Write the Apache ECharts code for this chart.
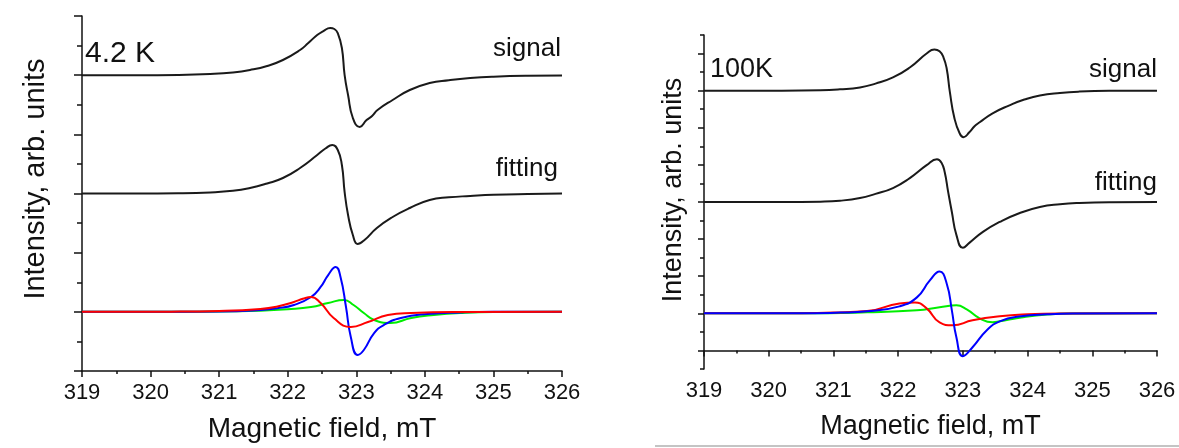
<!DOCTYPE html>
<html>
<head>
<meta charset="utf-8">
<script src="https://cdn.jsdelivr.net/npm/echarts@6.0.0/dist/echarts.min.js"></script>
<style>
  html, body { margin: 0; padding: 0; background: #fff; }
  #chart { width: 1179px; height: 448px; }
</style>
</head>
<body>
<div id="chart"></div>
<script>
// field axis ticks, mT
const fieldTicks = [319, 320, 321, 322, 323, 324, 325, 326]

// 4.2 K panel (offsets: signal at 5, fitting at 3, components at 1)
const lowSignal = [
  [319, 5.0], [319.8, 5.0], [320.4, 5.004], [320.87, 5.019], [321.2, 5.045], [321.45, 5.087],
  [321.7, 5.155], [321.93, 5.256], [322.18, 5.425], [322.3, 5.543], [322.43, 5.679], [322.52, 5.746],
  [322.62, 5.797], [322.68, 5.78], [322.73, 5.712], [322.79, 5.459], [322.83, 5.0], [322.88, 4.665],
  [322.95, 4.276], [323.05, 4.124], [323.15, 4.242], [323.23, 4.31], [323.31, 4.411], [323.53, 4.58],
  [323.78, 4.749], [324.07, 4.867], [324.35, 4.915], [324.66, 4.952], [325.0, 4.975], [325.5, 4.99],
  [326, 4.994]
]
const lowFit = [
  [319, 3.0], [319.8, 3.0], [320.4, 3.004], [320.87, 3.018], [321.2, 3.045], [321.45, 3.093],
  [321.7, 3.17], [321.93, 3.262], [322.18, 3.431], [322.43, 3.65], [322.55, 3.76], [322.65, 3.82],
  [322.73, 3.735], [322.79, 3.482], [322.83, 3.025], [322.88, 2.637], [322.95, 2.298], [323.02, 2.146],
  [323.12, 2.214], [323.3, 2.417], [323.53, 2.603], [323.78, 2.755], [324.07, 2.89], [324.35, 2.935],
  [324.66, 2.958], [325.0, 2.978], [325.5, 2.992], [326, 3.0]
]
const lowBlue = [
  [319, 1.0], [320, 1.0], [321, 1.006], [321.6, 1.031], [321.85, 1.06], [322.09, 1.115], [322.34, 1.251],
  [322.48, 1.42], [322.59, 1.622], [322.7, 1.758], [322.77, 1.589], [322.85, 1.082], [322.92, 0.575],
  [323.02, 0.27], [323.11, 0.355], [323.26, 0.642], [323.4, 0.777], [323.65, 0.896], [324.04, 0.963],
  [324.52, 0.99], [325, 1.0], [326, 1.0]
]
const lowRed = [
  [319, 1.0], [320.3, 1.003], [321, 1.014], [321.6, 1.048], [321.85, 1.09], [322.09, 1.166], [322.22, 1.22],
  [322.34, 1.251], [322.48, 1.149], [322.67, 0.896], [322.92, 0.744], [323.17, 0.828], [323.46, 0.946],
  [323.8, 0.98], [324.5, 0.997], [326, 1.0]
]
const lowGreen = [
  [319, 1.0], [320.3, 1.0], [321, 1.004], [321.6, 1.02], [322.0, 1.045], [322.34, 1.082], [322.59, 1.149],
  [322.82, 1.2], [322.96, 1.115], [323.11, 0.98], [323.26, 0.862], [323.5, 0.811], [323.8, 0.896],
  [324.13, 0.946], [324.52, 0.98], [325, 0.997], [326, 1.0]
]

// 100 K panel (offsets: signal at 7, fitting at 4, components at 1)
const highSignal = [
  [319, 7.0], [320.2, 7.0], [320.8, 7.01], [321.1, 7.035], [321.41, 7.087], [321.65, 7.19],
  [321.92, 7.356], [322.18, 7.624], [322.44, 8.0], [322.56, 8.107], [322.64, 8.06], [322.7, 7.9],
  [322.75, 7.597], [322.8, 6.953], [322.87, 6.255], [322.95, 5.852], [323.01, 5.745], [323.1, 5.879],
  [323.18, 6.04], [323.26, 6.148], [323.46, 6.389], [323.72, 6.604], [323.95, 6.76], [324.19, 6.872],
  [324.5, 6.94], [324.8, 6.975], [325.3, 6.995], [326, 7.0]
]
const highFit = [
  [319, 4.0], [320.2, 4.0], [320.8, 4.01], [321.1, 4.035], [321.41, 4.107], [321.65, 4.22],
  [321.92, 4.376], [322.18, 4.644], [322.44, 4.993], [322.6, 5.154], [322.67, 5.06], [322.72, 4.8],
  [322.77, 4.3], [322.83, 3.732], [322.9, 3.114], [323.0, 2.765], [323.1, 2.899], [323.31, 3.195],
  [323.57, 3.463], [323.88, 3.705], [324.19, 3.866], [324.5, 3.94], [324.8, 3.975], [325.3, 3.995],
  [326, 4.0]
]
const highBlue = [
  [319, 1.0], [320.48, 1.0], [321.1, 1.02], [321.52, 1.054], [322.02, 1.188], [322.29, 1.43],
  [322.49, 1.886], [322.64, 2.128], [322.75, 1.805], [322.83, 1.081], [322.9, 0.356], [323.0, -0.154],
  [323.15, 0.087], [323.37, 0.544], [323.57, 0.785], [323.9, 0.92], [324.3, 0.973], [324.7, 0.995],
  [326, 1.0]
]
const highRed = [
  [319, 1.0], [320.5, 1.005], [321.0, 1.02], [321.52, 1.06], [322.02, 1.268], [322.26, 1.295],
  [322.44, 1.134], [322.64, 0.758], [322.84, 0.678], [323.15, 0.812], [323.57, 0.919], [324.0, 0.973],
  [324.5, 0.995], [326, 1.0]
]
const highGreen = [
  [319, 1.0], [320.5, 1.0], [321.52, 1.027], [322.29, 1.081], [322.64, 1.161], [322.9, 1.215],
  [323.06, 1.107], [323.26, 0.866], [323.46, 0.758], [323.57, 0.785], [323.9, 0.89], [324.3, 0.97],
  [324.7, 0.995], [326, 1.0]
]

const rightMajor = [0, 1, 2, 3, 4, 5, 6, 7, 8]
const rightMinor = [-0.5, 0.5, 1.5, 2.5, 3.5, 4.5, 5.5, 6.5, 7.5, 8.5]

const font = 'Liberation Sans, Arial, sans-serif'
const ink = '#111'

function fieldAxis(gridIndex) {
  return {
    type: 'value',
    gridIndex: gridIndex,
    min: fieldTicks[0],
    max: fieldTicks[fieldTicks.length - 1],
    interval: 1,
    name: 'Magnetic field, mT',
    nameLocation: 'middle',
    nameGap: 44,
    nameTextStyle: { fontSize: gridIndex === 0 ? 28 : 27, color: ink, fontFamily: font },
    axisLine: { lineStyle: { color: ink, width: 1.5 } },
    axisTick: { length: 6, lineStyle: { color: ink, width: 1.5 } },
    minorTick: { show: true, splitNumber: 2, length: 3, lineStyle: { color: ink, width: 1.5 } },
    axisLabel: { fontSize: 22, color: ink, fontFamily: font, margin: 11 },
    splitLine: { show: false }
  }
}

function line(data, color, xi, yi) {
  return {
    type: 'line',
    xAxisIndex: xi,
    yAxisIndex: yi,
    data: data,
    showSymbol: false,
    smooth: 0.5,
    silent: true,
    animation: false,
    lineStyle: { color: color, width: 2 }
  }
}

const chart = echarts.init(document.getElementById('chart'))

chart.setOption({
  backgroundColor: '#fff',
  animation: false,
  grid: [
    { left: 82, top: 16, width: 480, height: 355 },
    { left: 704, top: 35, width: 453, height: 334 }
  ],
  xAxis: [fieldAxis(0), fieldAxis(1)],
  yAxis: [
    {
      type: 'value', gridIndex: 0, min: 0, max: 6, interval: 1,
      axisLine: { show: true, lineStyle: { color: ink, width: 1.5 } },
      axisTick: { show: true, length: 8, lineStyle: { color: ink, width: 1.5 } },
      minorTick: { show: true, splitNumber: 2, length: 5, lineStyle: { color: ink, width: 1.5 } },
      axisLabel: { show: false },
      splitLine: { show: false }
    },
    {
      type: 'value', gridIndex: 1, min: -0.5, max: 8.5,
      axisLine: { show: true, lineStyle: { color: ink, width: 1.5 } },
      axisTick: { show: true, length: 6, customValues: rightMajor, lineStyle: { color: ink, width: 1.5 } },
      axisLabel: { show: false },
      splitLine: { show: false }
    },
    {
      type: 'value', gridIndex: 1, min: -0.5, max: 8.5, position: 'left',
      axisLine: { show: false },
      axisTick: { show: true, length: 4, customValues: rightMinor, lineStyle: { color: ink, width: 1.5 } },
      axisLabel: { show: false },
      splitLine: { show: false }
    }
  ],
  series: [
    line(lowSignal, '#1a1a1a', 0, 0),
    line(lowFit, '#1a1a1a', 0, 0),
    line(lowGreen, '#00ee00', 0, 0),
    line(lowBlue, '#0000ff', 0, 0),
    line(lowRed, '#ff0000', 0, 0),
    line(highSignal, '#1a1a1a', 1, 1),
    line(highFit, '#1a1a1a', 1, 1),
    line(highGreen, '#00ee00', 1, 1),
    line(highRed, '#ff0000', 1, 1),
    line(highBlue, '#0000ff', 1, 1)
  ],
  graphic: [
    {
      type: 'text', x: 36, y: 179, rotation: Math.PI / 2,
      style: { text: 'Intensity, arb. units', fontSize: 29, fill: ink, fontFamily: font, align: 'center', verticalAlign: 'middle' }
    },
    {
      type: 'text', x: 674, y: 190, rotation: Math.PI / 2,
      style: { text: 'Intensity, arb. units', fontSize: 27, fill: ink, fontFamily: font, align: 'center', verticalAlign: 'middle' }
    },
    { type: 'text', left: 85, top: 39, style: { text: '4.2 K', fontSize: 30, fill: ink, fontFamily: font } },
    { type: 'text', right: 1179 - 561, top: 36, style: { text: 'signal', fontSize: 26, fill: ink, fontFamily: font } },
    { type: 'text', right: 1179 - 558, top: 156, style: { text: 'fitting', fontSize: 26, fill: ink, fontFamily: font } },
    { type: 'text', left: 710, top: 56, style: { text: '100K', fontSize: 27, fill: ink, fontFamily: font } },
    { type: 'text', right: 1179 - 1157, top: 57, style: { text: 'signal', fontSize: 26, fill: ink, fontFamily: font } },
    { type: 'text', right: 1179 - 1157, top: 170, style: { text: 'fitting', fontSize: 26, fill: ink, fontFamily: font } },
    { type: 'line', shape: { x1: 655, y1: 446, x2: 1179, y2: 446 }, style: { stroke: '#b0b0b0', lineWidth: 1.5 } }
  ]
})
</script>
</body>
</html>
